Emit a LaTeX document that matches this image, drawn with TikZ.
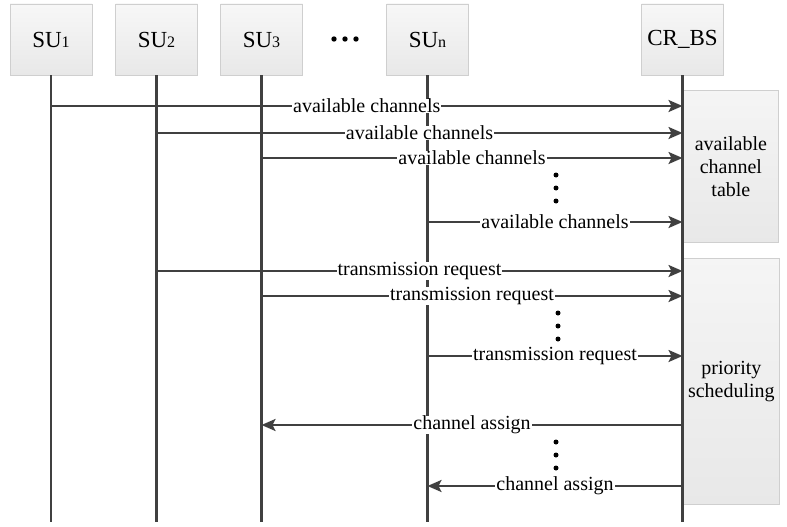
\documentclass[tikz,border=0pt]{standalone}
\usepackage{fontspec}
\setmainfont{Liberation Serif}
\usetikzlibrary{arrows.meta}
\definecolor{ink}{HTML}{404040}
\definecolor{boxline}{HTML}{CFCFCF}
\newcommand{\subidx}[1]{{\fontsize{16}{16}\selectfont #1}}
\tikzset{
  hdr/.style={draw=boxline, line width=0.8pt, top color=white!97!black, bottom color=white!91!black,
    minimum width=82pt, minimum height=71pt, inner sep=0pt, font=\fontsize{23}{27}\selectfont},
  side/.style={draw=boxline, line width=0.8pt, top color=white!96!black, bottom color=white!91!black,
    anchor=north west, inner sep=0pt, align=center, font=\fontsize{20}{23}\selectfont},
  life/.style={draw=ink, line width=2.8pt},
  msg/.style={draw=ink, line width=2.4pt, -{Stealth[length=14pt,width=12pt,inset=3pt]}},
  lbl/.style={fill=white, inner xsep=1pt, inner ysep=0pt, text=black, font=\fontsize{20}{23}\selectfont},
  vdot/.style={fill=black, circle, inner sep=0pt, minimum size=5pt}
}
\begin{document}
\begin{tikzpicture}[x=1pt, y=-1pt]
\useasboundingbox (0,0) rectangle (787,527);

% participants
\node[hdr] (su1) at (51,39.5) {SU\subidx{1}};
\node[hdr] (su2) at (156.5,39.5) {SU\subidx{2}};
\node[hdr] (su3) at (261.5,39.5) {SU\subidx{3}};
\node[hdr] (sun) at (427.5,39.5) {SU\subidx{n}};
\node[hdr] (bs) at (682.5,39.5) {CR\_BS};
\foreach \dx in {-11,0,11} \fill (345+\dx,39) circle (2.7pt);

% processing boxes of the base station
\node[side, minimum width=95pt, minimum height=152pt] (tab) at (683,90) {available\\channel\\table};
\node[side, minimum width=96pt, minimum height=246pt] (sched) at (683,258) {priority\\scheduling};

% lifelines
\coordinate (bottom) at (0,522);
\foreach \p in {su1,su2,su3,sun,bs}
  \draw[life] (\p.south) -- (\p.south |- bottom);

% message rows
\coordinate (m1) at (0,106);
\coordinate (m2) at (0,133);
\coordinate (m3) at (0,158);
\coordinate (m4) at (0,222);
\coordinate (m5) at (0,271);
\coordinate (m6) at (0,296);
\coordinate (m7) at (0,356);
\coordinate (m8) at (0,425);
\coordinate (m9) at (0,486);

\draw[msg] (su1 |- m1) -- node[lbl] {available channels} (bs |- m1);
\draw[msg] (su2 |- m2) -- node[lbl] {available channels} (bs |- m2);
\draw[msg] (su3 |- m3) -- node[lbl] {available channels} (bs |- m3);
\draw[msg] (sun |- m4) -- node[lbl] {available channels} (bs |- m4);
\draw[msg] (su2 |- m5) -- node[lbl] {transmission request} (bs |- m5);
\draw[msg] (su3 |- m6) -- node[lbl] {transmission request} (bs |- m6);
\draw[msg] (sun |- m7) -- node[lbl] {transmission request} (bs |- m7);
\draw[msg] (bs |- m8) -- node[lbl] {channel assign} (su3 |- m8);
\draw[msg] (bs |- m9) -- node[lbl] {channel assign} (sun |- m9);

% ellipses between rows
\foreach \y in {175,188,201} \node[vdot] at (556,\y) {};
\foreach \y in {313,326,339} \node[vdot] at (558,\y) {};
\foreach \y in {442,455,468} \node[vdot] at (556,\y) {};
\end{tikzpicture}
\end{document}
